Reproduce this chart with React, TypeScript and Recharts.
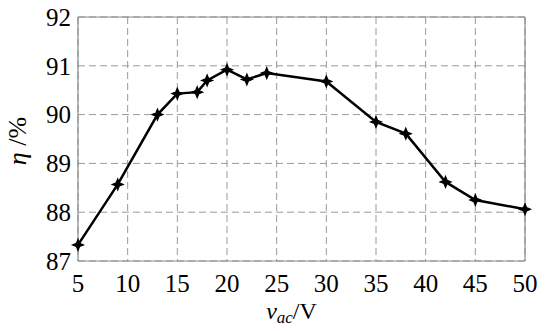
import React from "react";
import { LineChart, Line, XAxis, YAxis, CartesianGrid, ReferenceLine } from "recharts";

const voltages = [5, 9, 13, 15, 17, 18, 20, 22, 24, 30, 35, 38, 42, 45, 50];
const efficiency = [87.33, 88.57, 90.0, 90.43, 90.46, 90.7, 90.92, 90.72, 90.85, 90.68, 89.85, 89.61, 88.62, 88.25, 88.06];
const xTicks = [5, 10, 15, 20, 25, 30, 35, 40, 45, 50];
const yTicks = [87, 88, 89, 90, 91, 92];

const data = voltages.map((v, i) => ({ v, eta: efficiency[i] }));

const FONT = "Liberation Serif";

const StarDot = (props: any) => {
  const { cx, cy } = props;
  if (cx == null || cy == null) return null;
  const r = 5.5;
  const k = 1.6;
  const d = `M ${cx} ${cy - r} L ${cx + k} ${cy - k} L ${cx + r} ${cy} L ${cx + k} ${cy + k} L ${cx} ${cy + r} L ${cx - k} ${cy + k} L ${cx - r} ${cy} L ${cx - k} ${cy - k} Z`;
  return <path d={d} fill="#000" stroke="#000" strokeWidth={1.2} />;
};

const XLabel = (props: any) => {
  const vb = props.viewBox || {};
  const cx = (vb.x ?? 0) + (vb.width ?? 0) / 2 - 10;
  return (
    <text x={cx} y={319} textAnchor="middle" style={{ fontFamily: FONT, fontSize: 24 }} fill="#000">
      <tspan fontStyle="italic">v</tspan>
      <tspan fontStyle="italic" fontSize={17} dy={4}>ac</tspan>
      <tspan dy={-4}>/V</tspan>
    </text>
  );
};

const YLabel = () => {
  return (
    <text
      x={0}
      y={0}
      transform="translate(26,141) rotate(-90)"
      textAnchor="middle"
      style={{ fontFamily: FONT, fontSize: 26 }}
      fill="#000"
    >
      <tspan fontStyle="italic">η</tspan>
      <tspan> /%</tspan>
    </text>
  );
};

export default function App() {
  return (
    <div style={{ position: "absolute", left: 0, top: 0, width: 550, height: 331, background: "#fff", fontFamily: FONT }}>
      <LineChart width={550} height={331} data={data} margin={{ top: 17, right: 25, bottom: 30, left: 0 }} style={{ fontFamily: FONT }}>
        <CartesianGrid stroke="#9a9a9a" strokeDasharray="7 4" strokeWidth={1} />
        <XAxis
          dataKey="v"
          type="number"
          domain={[5, 50]}
          ticks={xTicks}
          interval={0}
          height={40}
          tickLine={false}
          tickMargin={7}
          axisLine={{ stroke: "#8a8a8a", strokeWidth: 1.2 }}
          tick={{ fill: "#000", fontSize: 25, style: { fontFamily: FONT } }}
          label={<XLabel />}
        />
        <YAxis
          type="number"
          domain={[87, 92]}
          ticks={yTicks}
          interval={0}
          width={78}
          tickLine={false}
          tickMargin={1}
          axisLine={{ stroke: "#8a8a8a", strokeWidth: 1.2 }}
          tick={{ fill: "#000", fontSize: 25, style: { fontFamily: FONT } }}
          label={<YLabel />}
        />
        <ReferenceLine y={92} stroke="#8a8a8a" strokeWidth={1.2} />
        <ReferenceLine x={50} stroke="#8a8a8a" strokeWidth={1.2} />
        <Line
          type="linear"
          dataKey="eta"
          stroke="#000"
          strokeWidth={2.5}
          dot={<StarDot />}
          activeDot={false}
          isAnimationActive={false}
        />
      </LineChart>
    </div>
  );
}
